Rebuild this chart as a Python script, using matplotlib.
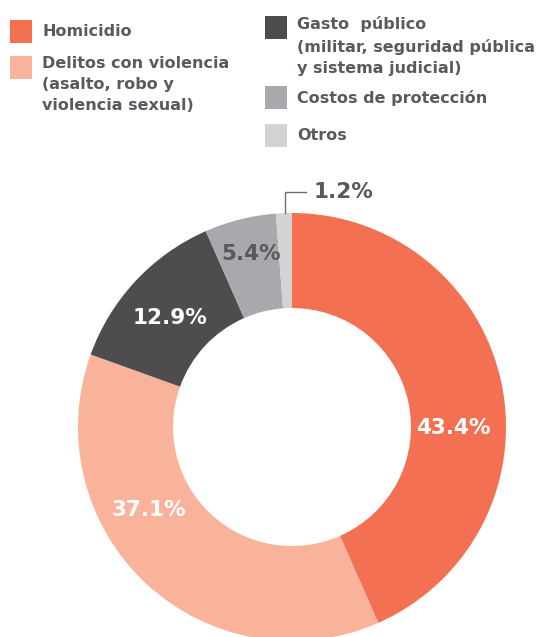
import matplotlib
matplotlib.use("Agg")
import matplotlib.pyplot as plt
from matplotlib.patches import Rectangle

# datos del gráfico
categorias = [
    "Homicidio",
    "Delitos con violencia\n(asalto, robo y\nviolencia sexual)",
    "Gasto  público\n(militar, seguridad pública\ny sistema judicial)",
    "Costos de protección",
    "Otros",
]
valores = [43.4, 37.1, 12.9, 5.4, 1.2]
etiquetas = ["43.4%", "37.1%", "12.9%", "5.4%", "1.2%"]
colores = ["#F37053", "#F9B39B", "#4D4D4F", "#A7A9AC", "#D1D3D4"]
color_etiqueta = ["white", "white", "white", "#58595B", "#58595B"]

GRIS_TEXTO = "#575A60"
W, H = 554, 637

fig = plt.figure(figsize=(W / 100, H / 100), dpi=100)
fig.patch.set_facecolor("white")

# -------------------
# dona
# -------------------
cx, cy, r = 292, 427, 214
ax = fig.add_axes([(cx - r) / W, (H - cy - r) / H, 2 * r / W, 2 * r / H])
ax.pie(valores, colors=colores, startangle=90, counterclock=False,
       radius=1.0, wedgeprops=dict(width=0.444, linewidth=0))
ax.set_xlim(-1, 1)
ax.set_ylim(-1, 1)
ax.set_aspect("equal")
ax.axis("off")

# posiciones de las etiquetas (en unidades del eje)
pos_etiquetas = [(0.755, -0.005), (-0.668, -0.388), (-0.570, 0.509),
                 (-0.192, 0.808), (0.103, 1.098)]
for i, (txt, (x, y)) in enumerate(zip(etiquetas, pos_etiquetas)):
    ha = "left" if i == 4 else "center"
    ax.text(x, y, txt, ha=ha, va="center", fontsize=15.5, fontweight="bold",
            color=color_etiqueta[i], family="DejaVu Sans", clip_on=False)

# línea guía para 1.2%
ax.plot([-0.033, -0.033, 0.065], [1.0, 1.098, 1.098], color="#6D6E71",
        lw=1.0, clip_on=False, solid_joinstyle="miter")

# -------------------
# leyenda manual
# -------------------
# (x cuadro, y cuadro arriba, y del texto de la primera línea)
leyenda = [(10, 20, 32), (10, 56, 65), (265, 16, 25), (265, 86, 99), (265, 124, 136)]
for cat, col, (xq, yq, yt) in zip(categorias, colores, leyenda):
    fig.patches.append(Rectangle((xq / W, 1 - (yq + 23) / H), 22 / W, 23 / H,
                                 transform=fig.transFigure, facecolor=col,
                                 edgecolor="none"))
    fig.text((xq + 32) / W, 1 - (yt - 8.5) / H, cat, ha="left", va="top",
             fontsize=11.5, fontweight="bold", color=GRIS_TEXTO,
             linespacing=1.5, family="DejaVu Sans")

fig.savefig("out.png", dpi=100, facecolor="white")
